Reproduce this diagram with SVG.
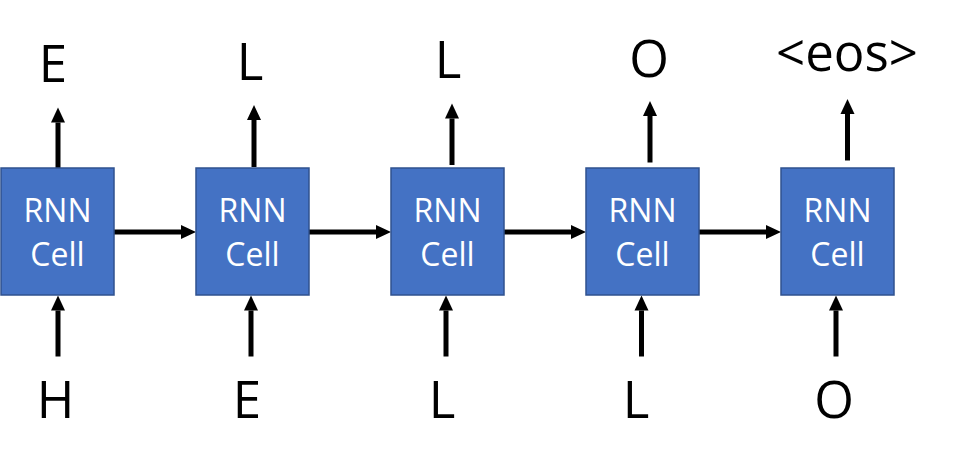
<svg xmlns="http://www.w3.org/2000/svg" width="959" height="469" viewBox="0 0 959 469">
<style>
.cell{fill:#4472C4;stroke:#2F528F;stroke-width:1.5}
.ct{font-family:"Open Sans","Noto Sans",sans-serif;font-size:32px;fill:#FFFFFF;text-anchor:middle}
.lbl{font-family:"Open Sans","Noto Sans",sans-serif;font-size:51px;fill:#000000;text-anchor:middle}
.conn{stroke:#000000;stroke-width:5;fill:none;marker-end:url(#ah)}
</style>
<defs>
<marker id="ah" markerUnits="userSpaceOnUse" markerWidth="16" markerHeight="16" refX="0" refY="7" orient="auto" viewBox="0 0 16 14">
<path d="M0,0 L15,7 L0,14 Z" fill="#000000"/>
</marker>
</defs>
<rect width="959" height="469" fill="#FFFFFF"/>
<g id="connectors">
<line class="conn" x1="114" y1="232" x2="181" y2="232"/>
<line class="conn" x1="309" y1="232" x2="376" y2="232"/>
<line class="conn" x1="504" y1="232" x2="571" y2="232"/>
<line class="conn" x1="699" y1="232" x2="766" y2="232"/>
<line class="conn" x1="58" y1="168" x2="58" y2="122.5"/>
<line class="conn" x1="254" y1="167" x2="254" y2="120"/>
<line class="conn" x1="452" y1="165" x2="452" y2="118.5"/>
<line class="conn" x1="650" y1="162.5" x2="650" y2="116"/>
<line class="conn" x1="847.5" y1="160.5" x2="847.5" y2="114"/>
<line class="conn" x1="58" y1="356.5" x2="58" y2="310.5"/>
<line class="conn" x1="251" y1="356.5" x2="251" y2="310.5"/>
<line class="conn" x1="446" y1="356.5" x2="446" y2="310.5"/>
<line class="conn" x1="641.5" y1="356.5" x2="641.5" y2="310.5"/>
<line class="conn" x1="836" y1="356.5" x2="836" y2="310.5"/>
</g>
<g id="cell1"><rect class="cell" x="1" y="168" width="113" height="127"/><text class="ct" x="57.5" y="221.7">RNN</text><text class="ct" x="57.5" y="265.7">Cell</text></g>
<g id="cell2"><rect class="cell" x="196" y="168" width="113" height="127"/><text class="ct" x="252.5" y="221.7">RNN</text><text class="ct" x="252.5" y="265.7">Cell</text></g>
<g id="cell3"><rect class="cell" x="391" y="168" width="113" height="127"/><text class="ct" x="447.5" y="221.7">RNN</text><text class="ct" x="447.5" y="265.7">Cell</text></g>
<g id="cell4"><rect class="cell" x="586" y="168" width="113" height="127"/><text class="ct" x="642.5" y="221.7">RNN</text><text class="ct" x="642.5" y="265.7">Cell</text></g>
<g id="cell5"><rect class="cell" x="781" y="168" width="113" height="127"/><text class="ct" x="837.5" y="221.7">RNN</text><text class="ct" x="837.5" y="265.7">Cell</text></g>
<g id="outputs">
<text class="lbl" x="53" y="81.5">E</text>
<text class="lbl" x="250" y="79.5">L</text>
<text class="lbl" x="448" y="78">L</text>
<text class="lbl" x="649" y="77">O</text>
<text class="lbl" x="847" y="71">&lt;eos&gt;</text>
</g>
<g id="inputs">
<text class="lbl" x="55.5" y="417.7">H</text>
<text class="lbl" x="247" y="418">E</text>
<text class="lbl" x="442" y="418">L</text>
<text class="lbl" x="636" y="418">L</text>
<text class="lbl" x="834" y="418">O</text>
</g>
</svg>
